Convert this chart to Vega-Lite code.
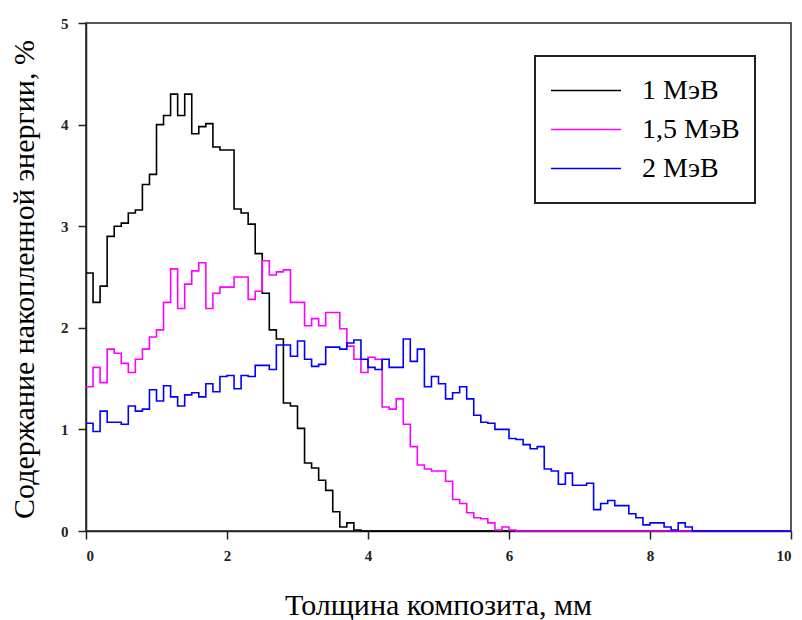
{
  "$schema": "https://vega.github.io/schema/vega-lite/v6.json",
  "width": 705,
  "height": 508,
  "autosize": {"type": "none"},
  "padding": {"left": 86, "top": 23, "right": 11, "bottom": 89},
  "background": "white",
  "config": {
    "view": {"stroke": "#222222", "strokeWidth": 1.5},
    "font": "Liberation Serif",
    "legend": {"strokeWidth": 2}
  },
  "data": {"values": [
    {"s":"1 МэВ","x":0.0,"y":2.54},{"s":"1 МэВ","x":0.1,"y":2.25},{"s":"1 МэВ","x":0.2,"y":2.41},{"s":"1 МэВ","x":0.3,"y":2.90},{"s":"1 МэВ","x":0.4,"y":3.00},{"s":"1 МэВ","x":0.5,"y":3.03},{"s":"1 МэВ","x":0.6,"y":3.13},{"s":"1 МэВ","x":0.7,"y":3.16},{"s":"1 МэВ","x":0.8,"y":3.41},{"s":"1 МэВ","x":0.9,"y":3.51},
    {"s":"1 МэВ","x":1.0,"y":4.00},{"s":"1 МэВ","x":1.1,"y":4.09},{"s":"1 МэВ","x":1.2,"y":4.30},{"s":"1 МэВ","x":1.3,"y":4.09},{"s":"1 МэВ","x":1.4,"y":4.30},{"s":"1 МэВ","x":1.5,"y":3.91},{"s":"1 МэВ","x":1.6,"y":3.98},{"s":"1 МэВ","x":1.7,"y":4.01},{"s":"1 МэВ","x":1.8,"y":3.78},{"s":"1 МэВ","x":1.9,"y":3.75},
    {"s":"1 МэВ","x":2.0,"y":3.75},{"s":"1 МэВ","x":2.1,"y":3.17},{"s":"1 МэВ","x":2.2,"y":3.13},{"s":"1 МэВ","x":2.3,"y":3.02},{"s":"1 МэВ","x":2.4,"y":2.73},{"s":"1 МэВ","x":2.5,"y":2.34},{"s":"1 МэВ","x":2.6,"y":1.98},{"s":"1 МэВ","x":2.7,"y":1.89},{"s":"1 МэВ","x":2.8,"y":1.26},{"s":"1 МэВ","x":2.9,"y":1.23},
    {"s":"1 МэВ","x":3.0,"y":1.01},{"s":"1 МэВ","x":3.1,"y":0.67},{"s":"1 МэВ","x":3.2,"y":0.62},{"s":"1 МэВ","x":3.3,"y":0.50},{"s":"1 МэВ","x":3.4,"y":0.40},{"s":"1 МэВ","x":3.5,"y":0.19},{"s":"1 МэВ","x":3.6,"y":0.04},{"s":"1 МэВ","x":3.7,"y":0.08},{"s":"1 МэВ","x":3.8,"y":0.01},{"s":"1 МэВ","x":3.9,"y":0},
    {"s":"1 МэВ","x":10,"y":0},
    {"s":"1,5 МэВ","x":0.0,"y":1.42},{"s":"1,5 МэВ","x":0.1,"y":1.61},{"s":"1,5 МэВ","x":0.2,"y":1.46},{"s":"1,5 МэВ","x":0.3,"y":1.79},{"s":"1,5 МэВ","x":0.4,"y":1.75},{"s":"1,5 МэВ","x":0.5,"y":1.65},{"s":"1,5 МэВ","x":0.6,"y":1.56},{"s":"1,5 МэВ","x":0.7,"y":1.69},{"s":"1,5 МэВ","x":0.8,"y":1.79},{"s":"1,5 МэВ","x":0.9,"y":1.91},
    {"s":"1,5 МэВ","x":1.0,"y":1.98},{"s":"1,5 МэВ","x":1.1,"y":2.25},{"s":"1,5 МэВ","x":1.2,"y":2.58},{"s":"1,5 МэВ","x":1.3,"y":2.19},{"s":"1,5 МэВ","x":1.4,"y":2.43},{"s":"1,5 МэВ","x":1.5,"y":2.56},{"s":"1,5 МэВ","x":1.6,"y":2.64},{"s":"1,5 МэВ","x":1.7,"y":2.19},{"s":"1,5 МэВ","x":1.8,"y":2.34},{"s":"1,5 МэВ","x":1.9,"y":2.40},
    {"s":"1,5 МэВ","x":2.0,"y":2.40},{"s":"1,5 МэВ","x":2.1,"y":2.50},{"s":"1,5 МэВ","x":2.2,"y":2.50},{"s":"1,5 МэВ","x":2.3,"y":2.28},{"s":"1,5 МэВ","x":2.4,"y":2.36},{"s":"1,5 МэВ","x":2.5,"y":2.66},{"s":"1,5 МэВ","x":2.6,"y":2.52},{"s":"1,5 МэВ","x":2.7,"y":2.55},{"s":"1,5 МэВ","x":2.8,"y":2.57},{"s":"1,5 МэВ","x":2.9,"y":2.25},
    {"s":"1,5 МэВ","x":3.0,"y":2.25},{"s":"1,5 МэВ","x":3.1,"y":2.02},{"s":"1,5 МэВ","x":3.2,"y":2.09},{"s":"1,5 МэВ","x":3.3,"y":2.02},{"s":"1,5 МэВ","x":3.4,"y":2.15},{"s":"1,5 МэВ","x":3.5,"y":2.15},{"s":"1,5 МэВ","x":3.6,"y":1.99},{"s":"1,5 МэВ","x":3.7,"y":1.82},{"s":"1,5 МэВ","x":3.8,"y":1.69},{"s":"1,5 МэВ","x":3.9,"y":1.56},
    {"s":"1,5 МэВ","x":4.0,"y":1.71},{"s":"1,5 МэВ","x":4.1,"y":1.69},{"s":"1,5 МэВ","x":4.2,"y":1.22},{"s":"1,5 МэВ","x":4.3,"y":1.20},{"s":"1,5 МэВ","x":4.4,"y":1.30},{"s":"1,5 МэВ","x":4.5,"y":1.05},{"s":"1,5 МэВ","x":4.6,"y":0.83},{"s":"1,5 МэВ","x":4.7,"y":0.65},{"s":"1,5 МэВ","x":4.8,"y":0.61},{"s":"1,5 МэВ","x":4.9,"y":0.59},
    {"s":"1,5 МэВ","x":5.0,"y":0.59},{"s":"1,5 МэВ","x":5.1,"y":0.49},{"s":"1,5 МэВ","x":5.2,"y":0.31},{"s":"1,5 МэВ","x":5.3,"y":0.27},{"s":"1,5 МэВ","x":5.4,"y":0.18},{"s":"1,5 МэВ","x":5.5,"y":0.13},{"s":"1,5 МэВ","x":5.6,"y":0.12},{"s":"1,5 МэВ","x":5.7,"y":0.08},{"s":"1,5 МэВ","x":5.8,"y":0.01},{"s":"1,5 МэВ","x":5.9,"y":0.04},
    {"s":"1,5 МэВ","x":6.0,"y":0.01},{"s":"1,5 МэВ","x":6.1,"y":0},{"s":"1,5 МэВ","x":10,"y":0},
    {"s":"2 МэВ","x":0.0,"y":1.06},{"s":"2 МэВ","x":0.1,"y":0.98},{"s":"2 МэВ","x":0.2,"y":1.18},{"s":"2 МэВ","x":0.3,"y":1.07},{"s":"2 МэВ","x":0.4,"y":1.07},{"s":"2 МэВ","x":0.5,"y":1.05},{"s":"2 МэВ","x":0.6,"y":1.23},{"s":"2 МэВ","x":0.7,"y":1.18},{"s":"2 МэВ","x":0.8,"y":1.20},{"s":"2 МэВ","x":0.9,"y":1.39},
    {"s":"2 МэВ","x":1.0,"y":1.28},{"s":"2 МэВ","x":1.1,"y":1.43},{"s":"2 МэВ","x":1.2,"y":1.32},{"s":"2 МэВ","x":1.3,"y":1.23},{"s":"2 МэВ","x":1.4,"y":1.34},{"s":"2 МэВ","x":1.5,"y":1.36},{"s":"2 МэВ","x":1.6,"y":1.32},{"s":"2 МэВ","x":1.7,"y":1.45},{"s":"2 МэВ","x":1.8,"y":1.37},{"s":"2 МэВ","x":1.9,"y":1.52},
    {"s":"2 МэВ","x":2.0,"y":1.53},{"s":"2 МэВ","x":2.1,"y":1.40},{"s":"2 МэВ","x":2.2,"y":1.53},{"s":"2 МэВ","x":2.3,"y":1.52},{"s":"2 МэВ","x":2.4,"y":1.63},{"s":"2 МэВ","x":2.5,"y":1.63},{"s":"2 МэВ","x":2.6,"y":1.59},{"s":"2 МэВ","x":2.7,"y":1.83},{"s":"2 МэВ","x":2.8,"y":1.83},{"s":"2 МэВ","x":2.9,"y":1.72},
    {"s":"2 МэВ","x":3.0,"y":1.87},{"s":"2 МэВ","x":3.1,"y":1.69},{"s":"2 МэВ","x":3.2,"y":1.62},{"s":"2 МэВ","x":3.3,"y":1.64},{"s":"2 МэВ","x":3.4,"y":1.81},{"s":"2 МэВ","x":3.5,"y":1.81},{"s":"2 МэВ","x":3.6,"y":1.79},{"s":"2 МэВ","x":3.7,"y":1.85},{"s":"2 МэВ","x":3.8,"y":1.88},{"s":"2 МэВ","x":3.9,"y":1.69},
    {"s":"2 МэВ","x":4.0,"y":1.61},{"s":"2 МэВ","x":4.1,"y":1.59},{"s":"2 МэВ","x":4.2,"y":1.69},{"s":"2 МэВ","x":4.3,"y":1.61},{"s":"2 МэВ","x":4.4,"y":1.61},{"s":"2 МэВ","x":4.5,"y":1.89},{"s":"2 МэВ","x":4.6,"y":1.67},{"s":"2 МэВ","x":4.7,"y":1.79},{"s":"2 МэВ","x":4.8,"y":1.42},{"s":"2 МэВ","x":4.9,"y":1.52},
    {"s":"2 МэВ","x":5.0,"y":1.45},{"s":"2 МэВ","x":5.1,"y":1.30},{"s":"2 МэВ","x":5.2,"y":1.36},{"s":"2 МэВ","x":5.3,"y":1.42},{"s":"2 МэВ","x":5.4,"y":1.30},{"s":"2 МэВ","x":5.5,"y":1.14},{"s":"2 МэВ","x":5.6,"y":1.07},{"s":"2 МэВ","x":5.7,"y":1.06},{"s":"2 МэВ","x":5.8,"y":1.00},{"s":"2 МэВ","x":5.9,"y":1.00},
    {"s":"2 МэВ","x":6.0,"y":0.91},{"s":"2 МэВ","x":6.1,"y":0.90},{"s":"2 МэВ","x":6.2,"y":0.85},{"s":"2 МэВ","x":6.3,"y":0.81},{"s":"2 МэВ","x":6.4,"y":0.83},{"s":"2 МэВ","x":6.5,"y":0.61},{"s":"2 МэВ","x":6.6,"y":0.59},{"s":"2 МэВ","x":6.7,"y":0.46},{"s":"2 МэВ","x":6.8,"y":0.57},{"s":"2 МэВ","x":6.9,"y":0.45},
    {"s":"2 МэВ","x":7.0,"y":0.45},{"s":"2 МэВ","x":7.1,"y":0.47},{"s":"2 МэВ","x":7.2,"y":0.21},{"s":"2 МэВ","x":7.3,"y":0.27},{"s":"2 МэВ","x":7.4,"y":0.30},{"s":"2 МэВ","x":7.5,"y":0.25},{"s":"2 МэВ","x":7.6,"y":0.25},{"s":"2 МэВ","x":7.7,"y":0.17},{"s":"2 МэВ","x":7.8,"y":0.13},{"s":"2 МэВ","x":7.9,"y":0.06},
    {"s":"2 МэВ","x":8.0,"y":0.08},{"s":"2 МэВ","x":8.1,"y":0.08},{"s":"2 МэВ","x":8.2,"y":0.04},{"s":"2 МэВ","x":8.3,"y":0.01},{"s":"2 МэВ","x":8.4,"y":0.08},{"s":"2 МэВ","x":8.5,"y":0.04},{"s":"2 МэВ","x":8.6,"y":0},{"s":"2 МэВ","x":10,"y":0}
  ]},
  "mark": {"type": "line", "interpolate": "step-after", "strokeWidth": 1.6},
  "encoding": {
    "x": {
      "field": "x", "type": "quantitative",
      "scale": {"domain": [0, 10], "nice": false, "zero": false},
      "axis": {
        "values": [0, 2, 4, 6, 8, 10],
        "title": "Толщина композита, мм",
        "grid": false,
        "domainColor": "#222222", "domainWidth": 1.5,
        "tickColor": "#222222", "tickWidth": 1.5, "tickSize": 8,
        "labelFont": "Liberation Serif", "labelFontSize": 15, "labelFontWeight": "bold", "labelColor": "#222222", "labelPadding": 9,
        "titleFont": "Liberation Serif", "titleFontSize": 30, "titleFontWeight": "normal", "titleColor": "#000000",
        "titleX": 352, "titleY": 74, "titleBaseline": "middle", "titleAlign": "center"
      }
    },
    "y": {
      "field": "y", "type": "quantitative",
      "scale": {"domain": [0, 5], "nice": false, "zero": true},
      "axis": {
        "values": [0, 1, 2, 3, 4, 5],
        "title": "Содержание накопленной энергии, %",
        "grid": false,
        "domainColor": "#222222", "domainWidth": 1.5,
        "tickColor": "#222222", "tickWidth": 1.5, "tickSize": 8,
        "labelFont": "Liberation Serif", "labelFontSize": 15, "labelFontWeight": "bold", "labelColor": "#222222", "labelPadding": 10,
        "titleFont": "Liberation Serif", "titleFontSize": 30, "titleFontWeight": "normal", "titleColor": "#000000",
        "titleX": -62, "titleY": 256, "titleBaseline": "middle", "titleAlign": "center", "titleAngle": -90
      }
    },
    "color": {
      "field": "s", "type": "nominal",
      "scale": {"domain": ["1 МэВ", "1,5 МэВ", "2 МэВ"], "range": ["#000000", "#ff00ff", "#0000ff"]},
      "legend": {
        "orient": "none", "legendX": 449, "legendY": 33,
        "title": null,
        "symbolType": "stroke", "symbolSize": 4900, "symbolStrokeWidth": 1.6,
        "clipHeight": 39, "rowPadding": 0, "padding": 15, "labelOffset": 20,
        "labelFont": "Liberation Serif", "labelFontSize": 28, "labelColor": "#000000",
        "strokeColor": "#222222", "fillColor": "#ffffff"
      }
    }
  }
}
